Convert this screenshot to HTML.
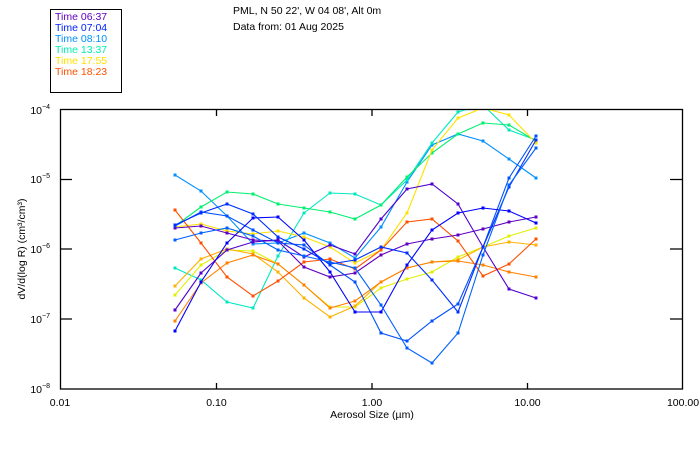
<!DOCTYPE html>
<html><head><meta charset="utf-8"><style>
html,body{margin:0;padding:0;background:#fff;}
svg{display:block;font-family:"Liberation Sans",sans-serif;}
</style></head><body>
<svg width="700" height="450" viewBox="0 0 700 450" xmlns="http://www.w3.org/2000/svg">
<rect x="0" y="0" width="700" height="450" fill="#fff"/>
<rect x="50.5" y="9.5" width="71" height="83" fill="none" stroke="#000" stroke-width="1"/>
<g font-size="10.5">
<text x="55" y="20" fill="#6000c0">Time 06:37</text>
<text x="55" y="31" fill="#0020ff">Time 07:04</text>
<text x="55" y="42" fill="#0090ff">Time 08:10</text>
<text x="55" y="53" fill="#00f0b0">Time 13:37</text>
<text x="55" y="64" fill="#ffe000">Time 17:55</text>
<text x="55" y="75" fill="#ff5000">Time 18:23</text>
<text x="233" y="14" fill="#000">PML, N 50 22', W 04 08', Alt 0m</text>
<text x="233" y="30" fill="#000">Data from: 01 Aug 2025</text>
</g>
<g stroke="#000" stroke-width="1.3" fill="none">
<rect x="60.5" y="109.5" width="622" height="279.5"/>
<path d="M216.5 389v-6M372 389v-6M527.5 389v-6M216.5 110v6M372 110v6M527.5 110v6"/>
<path d="M60 179.5h12M60 249h12M60 319h12M682 179.5h-12M682 249h-12M682 319h-12"/>
</g>
<g font-size="10.5" fill="#000">
<text x="50" y="393" text-anchor="end">10<tspan dy="-5" font-size="7">−8</tspan></text>
<text x="50" y="323" text-anchor="end">10<tspan dy="-5" font-size="7">−7</tspan></text>
<text x="50" y="253" text-anchor="end">10<tspan dy="-5" font-size="7">−6</tspan></text>
<text x="50" y="183" text-anchor="end">10<tspan dy="-5" font-size="7">−5</tspan></text>
<text x="50" y="114" text-anchor="end">10<tspan dy="-5" font-size="7">−4</tspan></text>
<text x="60" y="406" text-anchor="middle">0.01</text>
<text x="216.5" y="406" text-anchor="middle">0.10</text>
<text x="372" y="406" text-anchor="middle">1.00</text>
<text x="527.5" y="406" text-anchor="middle">10.00</text>
<text x="683" y="406" text-anchor="middle">100.00</text>
<text x="372" y="418" text-anchor="middle">Aerosol Size (µm)</text>
<text transform="translate(25,249) rotate(-90)" text-anchor="middle">dV/d(log R) (cm³/cm³)</text>
</g>
<svg x="60" y="110" width="622" height="279" viewBox="60 110 622 279" overflow="hidden">
<g fill="none" stroke-width="1.1" id="lines"></g>
</svg>
<script>
var X=[175,201,227,253,278,304,330,355,381,407,432,458,483,509,536];
var S=[
["#0090ff",[175,191,216,244,243,233,243,258,227,182,145,134,141,159,178]],
["#00e8c0",[268,280,302,308,256,213,193,194,205,180,143,112,105,130,140]],
["#00f070",[226,207,192,194,204,208,212,219,205,177,153,134,123,125,141]],
["#ffe000",[227,224,231,234,231,237,247,263,250,213,150,118,108,115,143]],
["#e0f000",[295,265,250,251,264,285,307,307,288,279,272,257,247,236,228]],
["#ffb000",[286,259,249,254,272,298,317,306,282,268,262,260,247,242,245]],
["#ff8000",[321,283,263,255,264,285,308,301,282,268,262,261,265,272,277]],
["#ff5000",[210,243,277,296,281,262,259,269,250,222,219,241,276,264,239]],
["#6000c0",[228,226,233,240,241,267,277,273,255,244,239,235,229,222,217]],
["#5000d0",[310,273,250,242,240,257,245,254,219,189,184,204,247,289,298]],
["#0050ff",[226,212,216,230,243,245,265,282,333,341,321,304,247,178,136]],
["#0000ff",[331,282,243,218,217,240,272,312,312,265,230,213,208,211,223]],
["#0030ff",[225,213,204,214,237,249,264,260,247,253,280,312,247,187,140]],
["#0060ff",[240,233,228,236,250,256,262,268,305,348,363,333,255,185,148]]
];
var g=document.getElementById('lines'),ns="http://www.w3.org/2000/svg";
S.forEach(function(s){var p=document.createElementNS(ns,'polyline');
p.setAttribute('points',X.map(function(x,i){return x+','+s[1][i]}).join(' '));
p.setAttribute('stroke',s[0]);g.appendChild(p);
X.forEach(function(x,i){var r=document.createElementNS(ns,'rect');r.setAttribute('x',x-1.5);r.setAttribute('y',s[1][i]-1.5);r.setAttribute('width',3);r.setAttribute('height',3);r.setAttribute('fill',s[0]);g.appendChild(r);});});
</script>
</svg>
</body></html>
